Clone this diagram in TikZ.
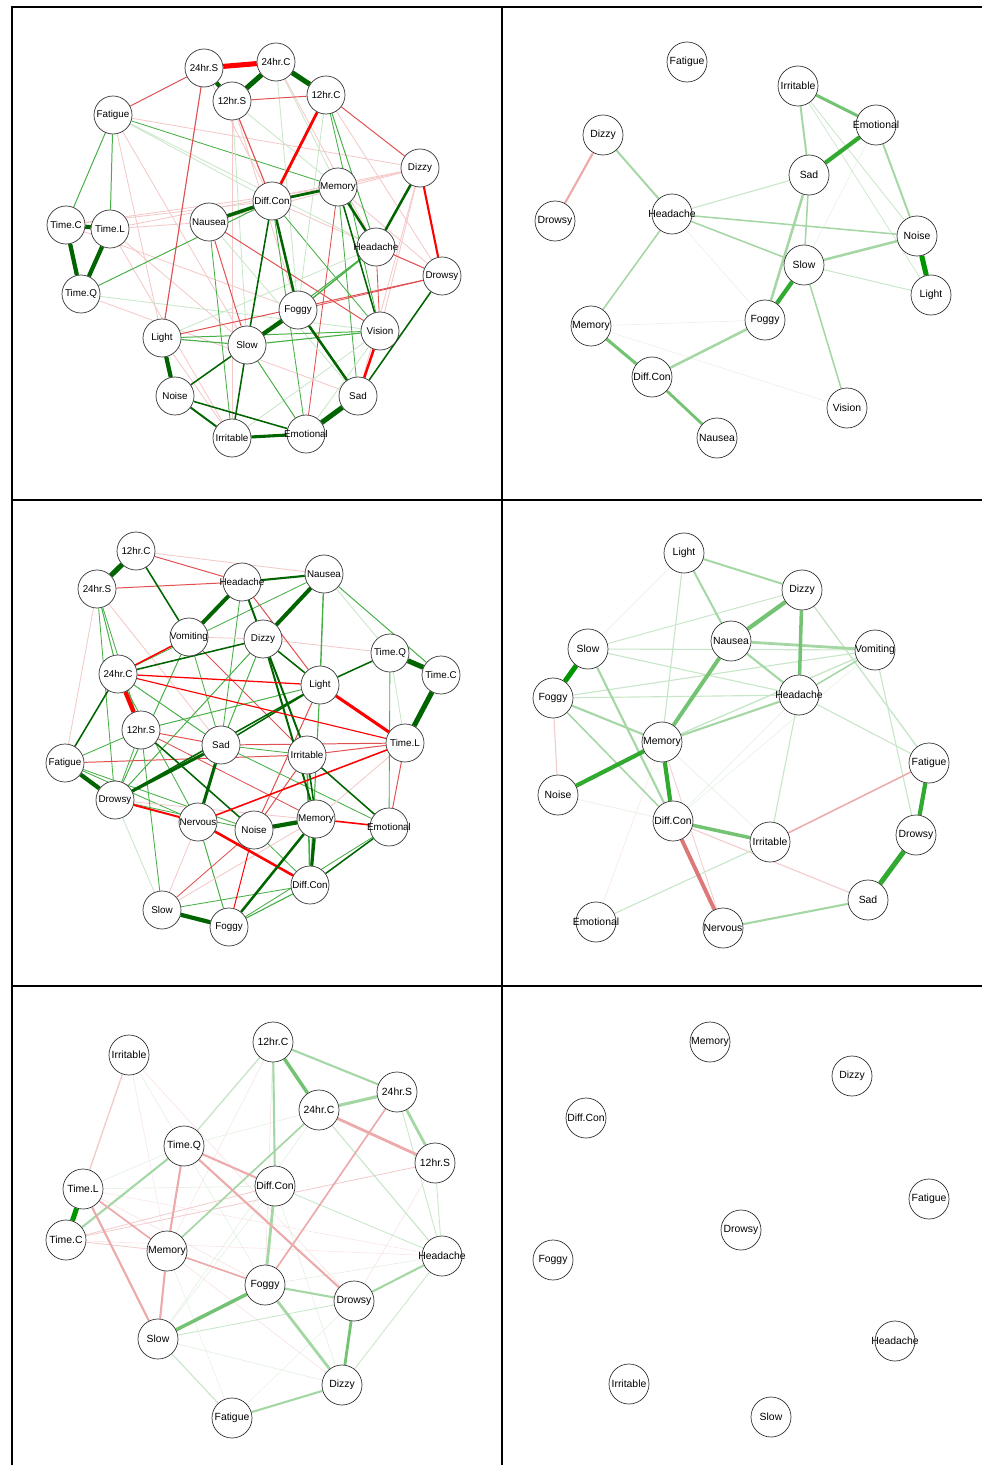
\documentclass[tikz,border=0pt]{standalone}
\usepackage{fontspec}
\setmainfont{Liberation Sans}
\usetikzlibrary{backgrounds}
\definecolor{dg}{RGB}{0,100,0}
\definecolor{rd}{RGB}{255,0,0}
\definecolor{gt}{RGB}{70,175,70}
\definecolor{gf}{RGB}{200,230,200}
\definecolor{rt}{RGB}{225,80,80}
\definecolor{rf}{RGB}{245,200,200}
\definecolor{G1}{RGB}{228,242,228}
\definecolor{G2}{RGB}{200,230,200}
\definecolor{G3}{RGB}{165,215,165}
\definecolor{G4}{RGB}{115,195,115}
\definecolor{G5}{RGB}{50,170,50}
\definecolor{G6}{RGB}{0,150,0}
\definecolor{R1}{RGB}{249,228,228}
\definecolor{R2}{RGB}{243,205,205}
\definecolor{R3}{RGB}{236,170,170}
\definecolor{R4}{RGB}{220,120,120}
\begin{document}
\begin{tikzpicture}[
  x=0.025cm, y=-0.025cm,
  var/.style={circle, draw=black!80, fill=white, line width=0.5pt, inner sep=0pt,
    minimum size=0.95cm, font=\fontsize{7}{8}\selectfont},
  varl/.style={var, minimum size=1cm, font=\fontsize{7.4}{8}\selectfont},
  frame/.style={line width=1.4pt, black}
]
\useasboundingbox (0,0) rectangle (982,1465);
% panel frame
\draw[frame] (12,1465) -- (12,7) -- (982,7);
\draw[frame] (502,7) -- (502,1465);
\draw[frame] (12,500) -- (982,500);
\draw[frame] (12,986) -- (982,986);

% top left
\foreach \nm/\x/\y/\lab in {a24S/204/68/24hr.S, a24C/276/62/24hr.C, a12S/232/101/12hr.S,
  a12C/326/95/12hr.C, aFat/113/115/Fatigue, aDiz/420/168/Dizzy, aMem/338/187/Memory,
  aDif/272/201/Diff.Con, aNau/209/222/Nausea, aTC/66/225/Time.C, aTL/110/229/Time.L,
  aHea/376/247/Headache, aDro/442/276/Drowsy, aTQ/81/294/Time.Q, aFog/298/310/Foggy,
  aVis/380/331/Vision, aLig/162/338/Light, aSlo/247/345/Slow, aNoi/175/396/Noise,
  aSad/358/396/Sad, aIrr/232/438/Irritable, aEmo/306/434/Emotional}
  \node[var] (\nm) at (\x,\y) {\makebox[0pt]{\lab}};

% top right
\foreach \nm/\x/\y/\lab in {bFat/687/62/Fatigue, bIrr/798/86/Irritable, bEmo/876/125/Emotional,
  bDiz/603/135/Dizzy, bSad/809/175/Sad, bDro/555/221/Drowsy, bHea/672/214/Headache,
  bNoi/917/236/Noise, bSlo/804/265/Slow, bLig/931/295/Light, bMem/591/326/Memory,
  bFog/765/320/Foggy, bDif/652/377/Diff.Con, bVis/847/408/Vision, bNau/717/438/Nausea}
  \node[varl] (\nm) at (\x,\y) {\makebox[0pt]{\lab}};

% middle left
\foreach \nm/\x/\y/\lab in {c12C/136/551/12hr.C, c24S/97/589/24hr.S, cHea/242/582/Headache,
  cNau/324/574/Nausea, cVom/189/637/Vomiting, cDiz/263/639/Dizzy, cTQ/390/653/Time.Q,
  cTC/441/675/Time.C, c24C/118/674/24hr.C, cLig/320/685/Light, c12S/141/730/12hr.S,
  cSad/221/745/Sad, cIrr/307/755/Irritable, cTL/405/743/Time.L, cFat/65/763/Fatigue,
  cDro/115/800/Drowsy, cNer/198/822/Nervous, cNoi/254/830/Noise, cMem/316/819/Memory,
  cEmo/389/827/Emotional, cDif/310/885/Diff.Con, cSlo/162/910/Slow, cFog/229/927/Foggy}
  \node[var] (\nm) at (\x,\y) {\makebox[0pt]{\lab}};

% middle right
\foreach \nm/\x/\y/\lab in {dLig/684/553/Light, dDiz/802/590/Dizzy, dSlo/588/649/Slow,
  dNau/731/641/Nausea, dVom/875/650/Vomiting, dFog/553/698/Foggy, dHea/799/695/Headache,
  dMem/662/742/Memory, dFat/929/763/Fatigue, dNoi/558/795/Noise, dDif/673/821/Diff.Con,
  dIrr/770/842/Irritable, dDro/916/835/Drowsy, dSad/868/900/Sad, dEmo/596/922/Emotional,
  dNer/723/928/Nervous}
  \node[varl] (\nm) at (\x,\y) {\makebox[0pt]{\lab}};

% bottom left
\foreach \nm/\x/\y/\lab in {e12C/273/1042/12hr.C, eIrr/129/1055/Irritable, e24S/397/1092/24hr.S,
  e24C/319/1110/24hr.C, eTQ/184/1146/Time.Q, e12S/435/1163/12hr.S, eTL/83/1189/Time.L,
  eDif/275/1186/Diff.Con, eTC/66/1240/Time.C, eMem/167/1251/Memory, eHea/442/1256/Headache,
  eFog/265/1285/Foggy, eDro/354/1301/Drowsy, eSlo/158/1339/Slow, eDiz/342/1385/Dizzy,
  eFat/232/1418/Fatigue}
  \node[varl] (\nm) at (\x,\y) {\makebox[0pt]{\lab}};

% bottom right (no edges)
\foreach \nm/\x/\y/\lab in {fMem/710/1042/Memory, fDiz/852/1076/Dizzy, fDif/586/1118/Diff.Con,
  fFat/929/1199/Fatigue, fDro/741/1230/Drowsy, fFog/553/1260/Foggy, fHea/895/1341/Headache,
  fIrr/629/1384/Irritable, fSlo/771/1417/Slow}
  \node[varl] (\nm) at (\x,\y) {\makebox[0pt]{\lab}};

\begin{pgfonlayer}{background}
% top left edges
\foreach \na/\nb/\lw/\lc in {aFat/aDif/0.6/gf, aFat/aMem/0.6/gt, aFat/aDiz/0.6/rf, aFat/aHea/0.6/gf,
  aFat/aNoi/0.6/rf, aFat/aSlo/0.6/rf, aTC/aMem/0.6/rf, aTL/aDiz/0.6/rf, aTL/aNau/0.6/rf,
  aTC/aDif/0.6/rf, aTL/aSlo/0.6/rf, aTC/aFog/0.6/rf, aTL/aIrr/0.6/rf, aTQ/aVis/0.6/gf,
  aTQ/aSad/0.6/rf, aDif/aDiz/0.6/rf, aDif/aDro/0.6/rf, aNau/aDiz/0.6/rf, aMem/aSad/0.6/gt,
  aMem/aEmo/0.6/rt, aMem/aDro/0.6/rf, aDiz/aSad/0.6/rf, aDiz/aVis/0.6/rf, aHea/aVis/0.6/rt,
  aHea/aLig/0.6/gf, aHea/aSlo/0.7/gt, a12S/aSlo/0.6/gf, a12S/aFog/0.6/rf, a12S/aMem/0.6/gf,
  a24C/aMem/0.6/gf, a24C/aHea/0.6/rf, a24S/aDif/0.6/rf, a12S/aIrr/0.6/rf, a24C/aFog/0.6/gf,
  aNau/aSad/0.6/gf, aNau/aIrr/0.6/gt, aDif/aEmo/0.6/gt, aIrr/aVis/0.6/gf, aLig/aIrr/0.6/rf,
  aDif/aVis/0.6/gt, aVis/aEmo/0.6/gf, aDro/aFog/0.6/rt, a12C/aHea/0.7/gt, a12C/aVis/0.6/gt,
  a12C/aDro/0.6/rf, a12C/aFog/0.6/gf, aTQ/aDif/0.7/gt, aLig/aDro/0.7/rt, aLig/aVis/0.7/gt,
  aNau/aSlo/0.7/rt, aNau/aVis/0.7/rt, aHea/aDro/0.7/rt, aSlo/aEmo/0.7/gt, aSlo/aVis/0.8/gt,
  aLig/aSlo/0.8/gt, aLig/a24S/0.8/rt, aFog/aHea/1/gt, aFat/a24S/0.7/rt, aFat/aTC/0.7/gt,
  aFat/aTL/0.7/gt, a12C/aDiz/0.7/rt, a12S/a12C/0.7/rt, a12S/aDif/0.8/rt, a12C/aDif/2/rd,
  a24S/a24C/3.6/rd, a24S/a12S/3/dg, a24C/a12S/3.6/dg, a24C/a12C/3.6/dg, aTC/aTL/3/dg,
  aTC/aTQ/3/dg, aTL/aTQ/3/dg, aNau/aDif/2.5/dg, aDif/aMem/2/dg, aMem/aHea/1.8/dg,
  aDiz/aHea/1.8/dg, aDiz/aDro/1.5/rd, aDif/aFog/1.8/dg, aDif/aSlo/1.1/dg, aFog/aSlo/3/dg,
  aFog/aSad/1.8/dg, aVis/aSad/1.8/rd, aDro/aSad/1.1/dg, aSad/aEmo/3.6/dg, aIrr/aEmo/2.2/dg,
  aNoi/aLig/3/dg, aNoi/aSlo/1.1/dg, aNoi/aIrr/1.4/dg, aNoi/aEmo/1.1/dg, aSlo/aIrr/1.1/dg,
  aMem/aVis/1.1/dg}
  \draw[line width=\lw pt, \lc] (\na) -- (\nb);

% top right edges
\foreach \na/\nb/\lw/\lc in {bHea/bFog/0.4/G1, bEmo/bSlo/0.4/G1, bMem/bFog/0.4/G1, bMem/bVis/0.4/G1,
  bIrr/bNoi/0.6/G2, bIrr/bLig/0.5/G2, bSlo/bLig/0.7/G2, bHea/bSad/0.8/G2, bDiz/bDro/1.5/R3,
  bDiz/bHea/1.4/G3, bHea/bMem/1.1/G3, bHea/bNoi/1.1/G3, bHea/bSlo/1.1/G3, bIrr/bSad/1.4/G3,
  bEmo/bNoi/1.4/G3, bSad/bSlo/1.1/G3, bSad/bFog/1.8/G3, bSlo/bNoi/1.8/G3, bSlo/bVis/1.1/G3,
  bDif/bFog/1.8/G3, bIrr/bEmo/2.2/G4, bMem/bDif/2.2/G4, bDif/bNau/2/G4, bEmo/bSad/3/G5,
  bSlo/bFog/3/G5, bNoi/bLig/3.6/G6}
  \draw[line width=\lw pt, \lc] (\na) -- (\nb);

% middle left edges
\foreach \na/\nb/\lw/\lc in {c12C/cNau/0.6/rf, c24S/c24C/0.7/gt, c24S/c12S/0.6/gt, c24S/cDro/0.6/gt,
  c24S/cSad/0.6/rf, c24S/cFat/0.6/rf, cHea/cSad/0.6/gt, cVom/cDiz/0.6/rf, cVom/cSad/0.6/gt,
  cVom/cIrr/0.7/rt, cVom/cDro/0.7/gt, cNau/cTQ/0.6/gf, cNau/c24C/0.6/gt, cNau/cTC/0.7/gt,
  cDiz/cTQ/0.6/rf, cDiz/cSad/0.7/gt, cDiz/cDro/0.7/gt, cLig/c12S/0.7/gt, cLig/cNoi/0.7/rt,
  cLig/cDif/0.8/gt, c24C/cSad/0.7/gt, c24C/cNer/0.6/gt, cFat/cIrr/0.7/rt, cFat/c12S/0.6/gt,
  cFat/cNer/0.6/gt, cFat/cNoi/0.6/gt, c12S/cSad/0.7/rt, c12S/cDro/0.6/gt, c12S/cMem/0.6/rt,
  cSad/cIrr/0.6/gt, cSad/cTL/0.7/rt, cSad/cEmo/0.6/gt, cDro/cNoi/0.6/gt, cDro/cEmo/0.6/rf,
  cNer/cFog/0.7/gt, cNer/cSlo/0.6/rf, cNoi/cSlo/0.6/rt, cNoi/cDif/0.6/gt, cMem/cTL/0.6/rf,
  cIrr/cDif/1.1/gt, cIrr/cTL/0.7/rt, cIrr/cNoi/0.7/rt, cTL/cEmo/0.7/rt, cTL/cTQ/0.6/gf,
  cEmo/cTQ/0.6/gt, cSlo/cDif/0.6/gt, cSlo/cMem/0.6/rf, cFog/cDif/0.8/gt, cFog/cEmo/0.6/gt,
  cSlo/cDro/0.6/gf, cSlo/c12S/0.6/gt, c12C/cHea/0.7/rt, c24S/cHea/0.7/rt, cHea/cLig/0.7/rt,
  cNau/cLig/1/gt, c12C/c24S/3.6/dg, c12C/cVom/1.1/dg, cHea/cNau/1.5/dg, cHea/cVom/2.8/dg,
  cHea/cDiz/1.4/dg, cVom/c24C/1.1/rd, cNau/cDiz/2.8/dg, cDiz/c24C/1.1/dg, cDiz/cLig/1.1/dg,
  cDiz/cIrr/1.4/dg, cDiz/cMem/1.4/dg, cTQ/cTC/3.6/dg, cTC/cTL/3.6/dg, cTQ/cLig/1.1/dg,
  cLig/cTL/2.2/rd, cLig/cSad/1.1/dg, cLig/cDro/1.1/dg, c24C/c12S/3/rd, c24C/cTL/0.8/rd,
  c24C/cLig/0.9/rd, cFat/cDro/3/dg, cFat/c24C/1.1/dg, c12S/cNoi/1.1/dg, cSad/cDro/2.2/dg,
  cSad/cNer/2.2/dg, cDro/cNer/1.4/rd, cNer/cDif/1.8/rd, cNer/cTL/1.1/rd, cNoi/cMem/3/dg,
  cNoi/cFog/0.7/rd, cMem/cEmo/1.1/rd, cMem/cDif/2.2/dg, cMem/cFog/1.8/dg, cMem/cIrr/1.1/dg,
  cIrr/cEmo/1.1/dg, cEmo/cDif/1.1/dg, cSlo/cFog/3/dg}
  \draw[line width=\lw pt, \lc] (\na) -- (\nb);

% middle right edges
\foreach \na/\nb/\lw/\lc in {dLig/dSlo/0.5/G1, dVom/dDif/0.4/G1, dHea/dDif/0.5/G1, dMem/dIrr/0.5/G1,
  dMem/dEmo/0.4/R1, dNoi/dDif/0.5/G1, dLig/dMem/0.8/G2, dDiz/dSlo/0.7/G2, dDiz/dFat/1/G2,
  dSlo/dVom/0.8/G2, dSlo/dHea/0.8/G2, dFog/dVom/0.8/G2, dFog/dHea/0.8/G2, dFog/dNoi/0.8/R2,
  dVom/dMem/1/G2, dVom/dDro/0.8/G2, dHea/dIrr/0.8/G2, dHea/dFat/0.8/G2, dMem/dNer/0.6/R2,
  dDif/dSad/0.8/R2, dIrr/dEmo/0.8/G2, dLig/dDiz/1.4/G3, dLig/dNau/1.4/G3, dSlo/dDif/1.5/G3,
  dNau/dVom/2/G3, dNau/dHea/1.5/G3, dFog/dMem/1.5/G3, dFog/dDif/1.1/G3, dVom/dHea/1.1/G3,
  dHea/dMem/1.5/G3, dIrr/dFat/1.1/R3, dSad/dNer/1.5/G3, dDiz/dNau/3/G4, dDiz/dHea/2.5/G4,
  dNau/dMem/2.8/G4, dDif/dIrr/2.5/G4, dDif/dNer/2.8/R4, dMem/dNoi/3/G5, dMem/dDif/3/G5,
  dFat/dDro/3/G5, dDro/dSad/3.6/G5, dSlo/dFog/3.6/G6}
  \draw[line width=\lw pt, \lc] (\na) -- (\nb);

% bottom left edges
\foreach \na/\nb/\lw/\lc in {eIrr/eDro/0.5/R1, eIrr/eFog/0.5/G1, eIrr/eMem/0.4/R1, e12C/eFog/0.5/R1,
  e12C/eMem/0.4/R1, e24C/eSlo/0.5/G1, e24C/eTQ/0.5/G1, eTQ/eTL/0.5/G1, eTL/eFog/0.5/R1,
  eTL/eDif/0.5/G1, eTC/eHea/0.4/R1, eTL/eHea/0.4/R1, eMem/eDiz/0.5/R1, eDif/eDiz/0.5/G1,
  eDif/eSlo/0.5/G1, eFog/eHea/0.5/G1, eDro/e12S/0.5/R1, eSlo/eDiz/0.5/G1, eMem/eFat/0.4/G1,
  eFat/eDro/0.4/G1, eTC/e12S/0.6/R2, eTC/eMem/0.6/R2, eTC/eDif/0.6/R2, e24S/eHea/0.6/G2,
  e24C/eHea/0.8/G2, eDif/eHea/0.6/G2, eDro/eSlo/0.6/G2, eDiz/eHea/0.6/G2, eSlo/eFat/0.8/G2,
  e12S/eHea/0.6/G2, e12C/eTQ/1/G2, eIrr/eTL/1/R2, e12C/e24S/1.5/G3, e12C/eDif/1.5/G3,
  e24C/e24S/2.2/G3, e24C/eMem/1.2/G3, e24S/e12S/2/G3, eTC/eTQ/1.5/G3, eDif/eFog/2/G3,
  eFog/eDro/1.5/G3, eFog/eDiz/2/G3, eDro/eHea/1.5/G3, eDiz/eFat/1.5/G3, e24C/e12S/2/R3,
  e24S/eFog/1.2/R3, eTQ/eDif/1.5/R3, eTQ/eDro/1.5/R3, eTQ/eMem/1.5/R3, eTL/eMem/1.2/R3,
  eTL/eSlo/1.5/R3, eMem/eSlo/1.5/R3, eMem/eFog/1.2/R3, e12C/e24C/2.5/G4, eFog/eSlo/2.5/G4,
  eDro/eDiz/2/G4, eTL/eTC/3.6/G6}
  \draw[line width=\lw pt, \lc] (\na) -- (\nb);
\end{pgfonlayer}
\end{tikzpicture}
\end{document}
